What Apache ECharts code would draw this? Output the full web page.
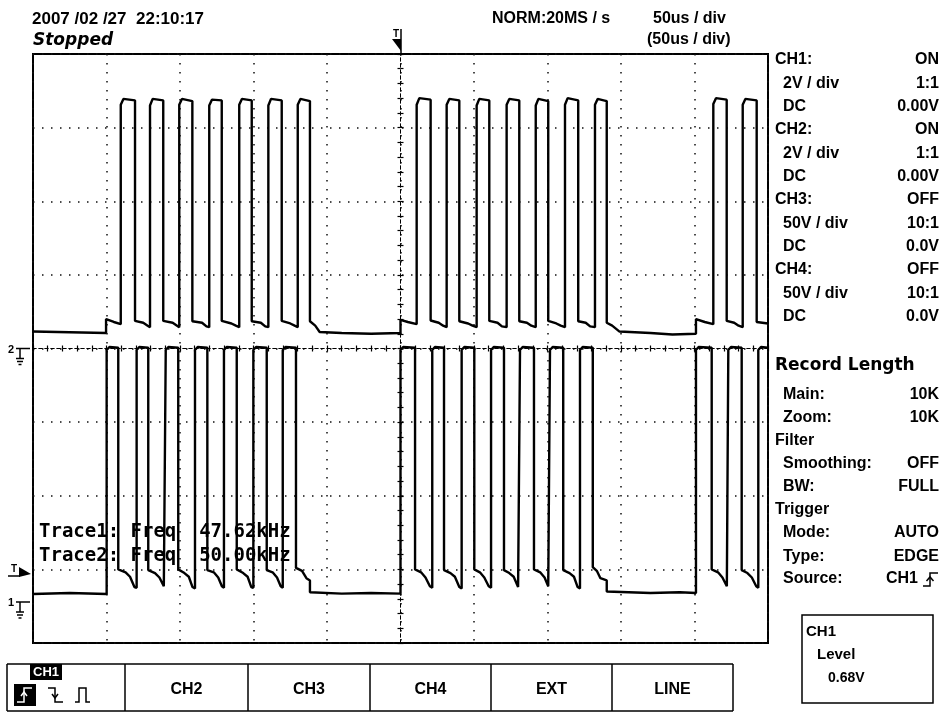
<!DOCTYPE html>
<html>
<head>
<meta charset="utf-8">
<script src="https://cdn.jsdelivr.net/npm/echarts@6.0.0/dist/echarts.min.js"></script>
<style>
html,body{margin:0;padding:0;background:#fff;}
#chart{width:943px;height:712px;}
</style>
</head>
<body>
<div id="chart"></div>
<script>
// ---- axes: time in µs (trigger at 0, 50 µs/div), voltage in V (2 V/div)
const timeMin = -250, timeMax = 250, timePerDiv = 50;
const voltMin = -8, voltMax = 8, voltPerDiv = 2;

// ---- upper trace (CH2) [time µs, volts]
const ch2Trace = [
  [-250, 0.46], [-225, 0.44], [-200.3, 0.42], [-200.3, 0.80], [-195, 0.72], [-190.3, 0.66],
  [-190.3, 6.62], [-188.5, 6.78], [-180.6, 6.74], [-180.6, 0.75], [-175, 0.70], [-172, 0.62], [-170.4, 0.58],
  [-170.4, 6.60], [-168.6, 6.78], [-161.4, 6.74], [-161.4, 0.75], [-155, 0.70], [-152, 0.62], [-150.5, 0.58],
  [-150.5, 6.62], [-148.7, 6.78], [-141.6, 6.72], [-141.6, 0.74], [-135, 0.70], [-132, 0.60], [-130.1, 0.58],
  [-130.1, 6.60], [-128.3, 6.76], [-121.6, 6.74], [-121.6, 0.75], [-115, 0.68], [-112, 0.62], [-109.7, 0.58],
  [-109.7, 6.62], [-107.9, 6.78], [-101.2, 6.74], [-101.2, 0.74], [-95, 0.70], [-92, 0.60], [-89.9, 0.58],
  [-89.9, 6.60], [-88.1, 6.78], [-80.8, 6.74], [-80.8, 0.75], [-75, 0.68], [-72, 0.62], [-69.9, 0.58],
  [-69.9, 6.62], [-68.1, 6.78], [-61.6, 6.72], [-61.6, 0.74], [-58, 0.62], [-55, 0.45], [-40, 0.42], [-20, 0.40], [0, 0.42],
  [0, 0.78], [5, 0.72], [11.0, 0.66],
  [11.0, 6.62], [12.8, 6.80], [20.5, 6.76], [20.5, 0.76], [26, 0.70], [29, 0.62], [31.4, 0.58],
  [31.4, 6.62], [33.2, 6.78], [40.0, 6.74], [40.0, 0.74], [46, 0.68], [49, 0.62], [51.8, 0.58],
  [51.8, 6.60], [53.6, 6.78], [60.4, 6.74], [60.4, 0.75], [66, 0.70], [69, 0.60], [72.2, 0.58],
  [72.2, 6.62], [74.0, 6.78], [80.8, 6.74], [80.8, 0.74], [86, 0.70], [89, 0.62], [92.0, 0.58],
  [92.0, 6.60], [93.8, 6.78], [100.5, 6.72], [100.5, 0.75], [106, 0.68], [109, 0.62], [111.9, 0.58],
  [111.9, 6.62], [113.7, 6.80], [120.9, 6.74], [120.9, 0.74], [126, 0.70], [129, 0.60], [132.3, 0.58],
  [132.3, 6.62], [134.1, 6.78], [140.3, 6.72], [140.3, 0.70], [144, 0.62], [149, 0.46], [170, 0.42], [185, 0.38], [201.0, 0.40],
  [201.0, 0.80], [207, 0.72], [212.8, 0.66],
  [212.8, 6.64], [214.6, 6.80], [221.9, 6.76], [221.9, 0.75], [227, 0.70], [230, 0.62], [232.8, 0.58],
  [232.8, 6.62], [234.6, 6.78], [242.3, 6.74], [242.3, 0.72], [250, 0.68]
];

// ---- lower trace (CH1) [time µs, volts]
const ch1Trace = [
  [-250, -6.67], [-225, -6.64], [-199.9, -6.67], [-199.9, -0.04], [-198, 0.04], [-192.0, 0.02],
  [-192.0, -6.00], [-187, -6.08], [-184, -6.20], [-181, -6.48], [-179.5, -6.50],
  [-179.5, -0.04], [-177.7, 0.04], [-171.6, 0.02], [-171.6, -6.02], [-167, -6.10], [-164, -6.22], [-161, -6.46], [-159.7, -6.50],
  [-159.7, -0.04], [-157.9, 0.04], [-151.2, 0.02], [-151.2, -6.00], [-147, -6.10], [-144, -6.20], [-141.5, -6.48], [-139.8, -6.52],
  [-139.8, -0.04], [-138.0, 0.04], [-131.4, 0.02], [-131.4, -6.02], [-127, -6.08], [-124, -6.22], [-121.5, -6.46], [-120.1, -6.50],
  [-120.1, -0.04], [-118.3, 0.04], [-111.4, 0.02], [-111.4, -6.00], [-107, -6.10], [-104, -6.20], [-101.5, -6.48], [-100.1, -6.50],
  [-100.1, -0.04], [-98.3, 0.04], [-91.0, 0.02], [-91.0, -6.02], [-87, -6.08], [-84, -6.22], [-81.5, -6.46], [-80.1, -6.50],
  [-80.1, -0.04], [-78.3, 0.04], [-71.1, 0.02], [-71.1, -5.96], [-67, -6.04], [-64, -6.24], [-61.6, -6.30], [-61.6, -6.62],
  [-40, -6.66], [-20, -6.64], [0, -6.66],
  [0, -0.04], [1.8, 0.04], [9.9, 0.02], [9.9, -6.00], [14, -6.08], [17, -6.22], [20, -6.46], [21.6, -6.50],
  [21.6, -0.04], [23.4, 0.04], [29.6, 0.02], [29.6, -6.02], [34, -6.10], [37, -6.20], [40, -6.48], [41.6, -6.52],
  [41.6, -0.04], [43.4, 0.04], [50.2, 0.02], [50.2, -6.00], [54, -6.08], [57, -6.22], [60, -6.46], [61.6, -6.50],
  [61.6, -0.04], [63.4, 0.04], [70.4, 0.02], [70.4, -6.02], [74, -6.10], [77, -6.20], [80, -6.48], [81.3, -6.50],
  [81.3, -0.04], [83.1, 0.04], [90.8, 0.02], [90.8, -6.00], [95, -6.08], [98, -6.22], [100.5, -6.46], [101.7, -6.50],
  [101.7, -0.04], [103.5, 0.04], [110.7, 0.02], [110.7, -6.02], [115, -6.10], [118, -6.20], [120.5, -6.48], [122.1, -6.52],
  [122.1, -0.04], [123.9, 0.04], [130.8, 0.02], [130.8, -5.94], [133.7, -6.05], [136, -6.24], [140.3, -6.30], [140.3, -6.60],
  [170, -6.64], [190, -6.62], [201.0, -6.64],
  [201.0, -0.04], [202.8, 0.04], [211.7, 0.02], [211.7, -6.00], [216, -6.08], [219, -6.22], [222, -6.46], [223.0, -6.50],
  [223.0, -0.04], [224.8, 0.04], [232.1, 0.02], [232.1, -6.02], [236, -6.10], [239, -6.22], [242, -6.46], [243.4, -6.50],
  [243.4, -0.04], [245.2, 0.04], [250, 0.02]
];

// ---- texts
const headerTexts = ['2007 /02 /27  22:10:17', 'Stopped', 'NORM:20MS / s', '50us / div', '(50us / div)'];
const panelLabels = ['CH1:', '2V / div', 'DC', 'CH2:', '2V / div', 'DC', 'CH3:', '50V / div', 'DC', 'CH4:', '50V / div', 'DC',
  'Record Length', 'Main:', 'Zoom:', 'Filter', 'Smoothing:', 'BW:', 'Trigger', 'Mode:', 'Type:', 'Source:'];
const panelValues = ['ON', '1:1', '0.00V', 'ON', '1:1', '0.00V', 'OFF', '10:1', '0.0V', 'OFF', '10:1', '0.0V',
  '', '10K', '10K', '', 'OFF', 'FULL', '', 'AUTO', 'EDGE', 'CH1'];
const measureTexts = ['Trace1: Freq  47.62kHz', 'Trace2: Freq  50.00kHz'];
const buttonLabels = ['CH2', 'CH3', 'CH4', 'EXT', 'LINE'];
const levelBoxTexts = ['CH1', 'Level', '0.68V'];

// ---- layout (pixels)
const panelY = [60, 84, 107, 130, 154, 177, 200, 224, 247, 270, 294, 317, 366, 395, 418, 441, 464, 487, 510, 533, 557, 579];
const panelIndent = [0,1,1,0,1,1,0,1,1,0,1,1,0,1,1,0,1,1,0,1,1,1];
const buttonX = [7, 125, 248, 370, 491, 612, 733];

const FS = '"Liberation Sans", Arial, sans-serif';
const FM = '"DejaVu Sans Mono", monospace';
const FD = '"DejaVu Sans", sans-serif';

function T(x, y, text, size, o) {
  o = o || {};
  return { type: 'text', x: x, y: y, z: 100, silent: true,
    style: { text: text, fill: o.fill || '#000', fontSize: size, fontWeight: o.weight || 'bold',
      fontFamily: o.family || FS, fontStyle: o.style || 'normal', align: o.align || 'left',
      verticalAlign: o.va || 'middle' } };
}
function PL(points, w, color) {
  return { type: 'polyline', z: 100, silent: true, shape: { points: points },
    style: { stroke: color || '#000', lineWidth: w || 1.5, fill: null } };
}
function PG(points, color) {
  return { type: 'polygon', z: 100, silent: true, shape: { points: points },
    style: { fill: color || '#000', stroke: null } };
}
function RC(x, y, w, h, fill, stroke, lw) {
  return { type: 'rect', z: 90, silent: true, shape: { x: x, y: y, width: w, height: h },
    style: { fill: fill || null, stroke: stroke || null, lineWidth: lw || 1.5 } };
}
function groundMark(label, y) {
  return [
    T(8, y + 1, label, 11, { family: FS }),
    PL([[16, y], [30, y]], 1.5),
    PL([[20, y], [20, y + 10]], 1.5),
    PL([[16, y + 10], [24, y + 10]], 1.5),
    PL([[17, y + 13], [23, y + 13]], 1.5),
    PL([[18.5, y + 16], [21.5, y + 16]], 1.5)
  ];
}

const g = [];
// header
g.push(T(32, 19, headerTexts[0], 17, {}));
g.push(T(33, 41, headerTexts[1], 17, { family: FD, style: 'italic' }));
g.push(T(492, 19, headerTexts[2], 16, {}));
g.push(T(653, 19, headerTexts[3], 16, {}));
g.push(T(647, 40, headerTexts[4], 16, {}));
// top trigger position marker
g.push(T(396, 34, 'T', 10, { align: 'center' }));
g.push(PL([[401, 29], [401, 53]], 1.5));
g.push(PG([[392, 39], [401, 39], [401, 51]]));
// left markers
groundMark('2', 348.5).forEach(e => g.push(e));
groundMark('1', 602).forEach(e => g.push(e));
g.push(T(14, 569, 'T', 10, { align: 'center' }));
g.push(PG([[19, 567], [31, 574], [19, 577]]));
g.push(PL([[8, 576], [20, 576]], 1.5));
// measurements
g.push(T(39, 532, measureTexts[0], 19, { family: FM }));
g.push(T(39, 556, measureTexts[1], 19, { family: FM }));
// right panel
for (let i = 0; i < panelLabels.length; i++) {
  const big = panelLabels[i] === 'Record Length';
  g.push(T(panelIndent[i] ? 783 : 775, panelY[i], panelLabels[i], big ? 17 : 16, big ? { family: FD } : {}));
  if (panelValues[i]) {
    g.push(T(i === panelLabels.length - 1 ? 918 : 939, panelY[i], panelValues[i], 16, { align: 'right' }));
  }
}
// rising-edge icon after Source CH1
g.push(PL([[923, 586], [930, 586], [930, 573], [938, 573]], 1.5));
g.push(PL([[926.5, 581], [930, 577], [933.5, 581]], 1.5));
// level box
g.push(RC(802, 615, 131, 88, null, '#000', 1.5));
g.push(T(806, 632, levelBoxTexts[0], 15, {}));
g.push(T(817, 655, levelBoxTexts[1], 15, {}));
g.push(T(828, 678, levelBoxTexts[2], 14, {}));
// bottom buttons
g.push(PL([[buttonX[0], 664], [buttonX[buttonX.length - 1], 664]], 1.5));
g.push(PL([[buttonX[0], 711], [buttonX[buttonX.length - 1], 711]], 1.5));
buttonX.forEach(x => g.push(PL([[x, 664], [x, 711]], 1.5)));
for (let i = 0; i < buttonLabels.length; i++) {
  g.push(T((buttonX[i + 1] + buttonX[i + 2]) / 2, 690, buttonLabels[i], 16, { align: 'center' }));
}
// first button: CH1 tab + slope icons
g.push(RC(30, 664, 32, 16, '#000', null));
g.push(T(46, 672, 'CH1', 13, { fill: '#fff', align: 'center' }));
g.push(RC(14, 684, 22, 22, '#000', null));
g.push(PL([[17, 702], [24, 702], [24, 688], [32, 688]], 1.5, '#fff'));
g.push(PL([[21, 696], [24, 692], [27, 696]], 1.5, '#fff'));
g.push(PL([[48, 688], [55, 688], [55, 702], [63, 702]], 1.5));
g.push(PL([[52, 694], [55, 698], [58, 694]], 1.5));
g.push(PL([[75, 702], [79, 702], [79, 688], [86, 688], [86, 702], [90, 702]], 1.5));

const dotted = { color: '#111', width: 1.5, type: [1.5, 7.5] };
function xAx(pos, main) {
  return { type: 'value', min: timeMin, max: timeMax, interval: timePerDiv, position: pos,
    axisLine: { show: true, onZero: true, onZeroAxisIndex: 0, lineStyle: { color: '#000', width: 1, type: [3, 3] } },
    axisTick: { show: true, length: 3, lineStyle: { color: '#000', width: 1.2 } },
    minorTick: { show: true, splitNumber: 5, length: 3, lineStyle: { color: '#000', width: 1.2 } },
    axisLabel: { show: false },
    splitLine: { show: main, lineStyle: dotted },
    minorSplitLine: { show: false } };
}
function yAx(pos, main) {
  return { type: 'value', min: voltMin, max: voltMax, interval: voltPerDiv, position: pos,
    axisLine: { show: true, onZero: true, onZeroAxisIndex: 0, lineStyle: { color: '#000', width: 1, type: [3, 3] } },
    axisTick: { show: true, length: 3, lineStyle: { color: '#000', width: 1.2 } },
    minorTick: { show: true, splitNumber: 5, length: 3, lineStyle: { color: '#000', width: 1.2 } },
    axisLabel: { show: false },
    splitLine: { show: main, lineStyle: dotted },
    minorSplitLine: { show: false } };
}

const chart = echarts.init(document.getElementById('chart'), null, { renderer: 'canvas' });
chart.setOption({
  animation: false,
  backgroundColor: '#fff',
  grid: { left: 33, top: 54, width: 735, height: 589, show: true, borderColor: '#000', borderWidth: 2, backgroundColor: 'transparent' },
  xAxis: [xAx('bottom', true), xAx('top', false)],
  yAxis: [yAx('left', true), yAx('right', false)],
  series: [
    { type: 'line', name: 'CH2', data: ch2Trace, xAxisIndex: 0, yAxisIndex: 0, showSymbol: false, symbol: 'none',
      lineStyle: { color: '#000', width: 2.4 }, z: 5, silent: true },
    { type: 'line', name: 'CH1', data: ch1Trace, xAxisIndex: 0, yAxisIndex: 0, showSymbol: false, symbol: 'none',
      lineStyle: { color: '#000', width: 2.4 }, z: 5, silent: true }
  ],
  graphic: { elements: g }
});
</script>
</body>
</html>
